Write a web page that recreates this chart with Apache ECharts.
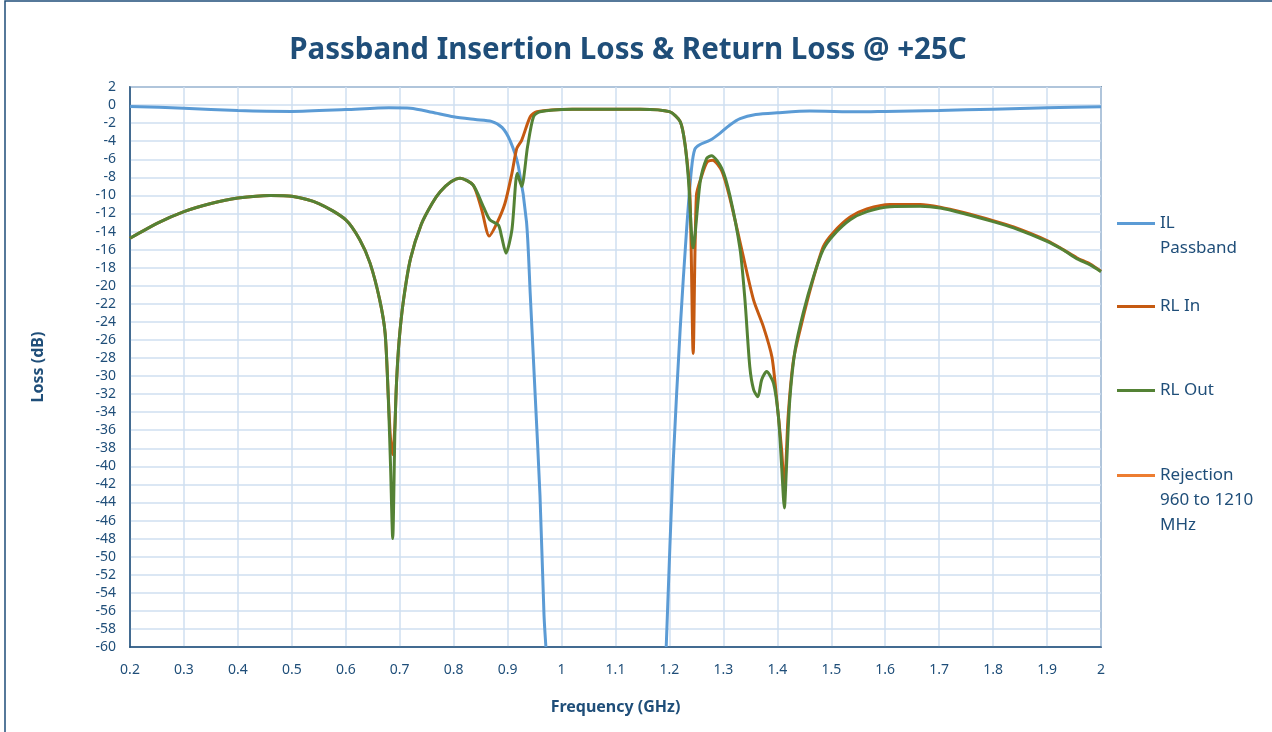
<!DOCTYPE html>
<html>
<head>
<meta charset="utf-8">
<script src="https://cdn.jsdelivr.net/npm/echarts@6/dist/echarts.min.js"></script>
<style>
  html, body { margin: 0; padding: 0; background: #fff; overflow: hidden; }
  #chart { width: 1272px; height: 732px; }
</style>
</head>
<body>
<div id="chart"></div>
<script>
// IL passband (GHz, dB) - goes below -60 in the stopband, so there's a gap
const ilFreq = [0.20, 0.30, 0.40, 0.50, 0.60, 0.68, 0.72, 0.76, 0.80, 0.84, 0.87, 0.89, 0.905, 0.92, 0.935, 0.942, 0.951, 0.960, 0.9675, 0.971,
  1.08,
  1.194, 1.207, 1.22, 1.232, 1.241, 1.247, 1.256, 1.275, 1.294, 1.312, 1.331, 1.36, 1.40, 1.46, 1.55, 1.60, 1.70, 1.80, 1.90, 2.00];
const ilLoss = [-0.15, -0.35, -0.6, -0.7, -0.5, -0.3, -0.35, -0.8, -1.3, -1.6, -1.8, -2.5, -4.0, -6.8, -12.9, -21, -32, -43.2, -56.5, -60,
  null,
  -60, -39.5, -24.7, -13.6, -7, -4.9, -4.4, -3.9, -3.1, -2.2, -1.5, -1.05, -0.85, -0.65, -0.75, -0.7, -0.6, -0.45, -0.3, -0.2];

// RL In
const rlInFreq = [0.20, 0.25, 0.30, 0.35, 0.40, 0.46, 0.50, 0.55, 0.60, 0.626, 0.645, 0.663, 0.673, 0.679, 0.683, 0.687, 0.691, 0.694, 0.699, 0.707,
  0.72, 0.74, 0.76, 0.775, 0.795, 0.812, 0.836, 0.852, 0.866, 0.88, 0.895, 0.908, 0.917, 0.926, 0.942, 0.954, 1.02, 1.146, 1.20, 1.22, 1.229,
  1.238, 1.244, 1.25, 1.26, 1.27, 1.28, 1.297, 1.312, 1.334, 1.356, 1.374, 1.39, 1.399, 1.408, 1.413, 1.42, 1.43, 1.445, 1.464, 1.485,
  1.504, 1.535, 1.566, 1.609, 1.665, 1.702, 1.745, 1.80, 1.838, 1.90, 1.93, 1.955, 1.98, 2.00];
const rlInLoss = [-14.75, -13.1, -11.8, -10.9, -10.3, -10.0, -10.1, -10.9, -12.7, -14.9, -17.5, -21.6, -25.3, -32.5, -37, -38.7, -35.5, -30.8, -26, -21.6,
  -17, -13.2, -10.9, -9.6, -8.5, -8.1, -8.85, -11.6, -14.5, -13.1, -10.9, -7.55, -4.8, -3.9, -1.3, -0.73, -0.47, -0.45, -0.73, -1.84, -4.4,
  -10, -27.5, -10, -7.8, -6.3, -6.1, -7.3, -10.3, -16, -21.6, -24.5, -27.9, -32.7, -38.2, -42.5, -34.5, -28.2, -24.2, -19.8, -15.7,
  -14.1, -12.4, -11.5, -11.0, -11.0, -11.3, -11.9, -12.8, -13.5, -15.0, -16.0, -16.9, -17.6, -18.4];

// RL Out
const rlOutFreq = [0.20, 0.25, 0.30, 0.35, 0.40, 0.46, 0.50, 0.55, 0.60, 0.626, 0.645, 0.663, 0.673, 0.679, 0.683, 0.687, 0.691, 0.694, 0.699, 0.707,
  0.72, 0.74, 0.76, 0.775, 0.795, 0.812, 0.836, 0.855, 0.867, 0.883, 0.889, 0.897, 0.908, 0.918, 0.926, 0.937, 0.948, 0.96, 1.02, 1.146, 1.20,
  1.22, 1.229, 1.235, 1.244, 1.257, 1.269, 1.278, 1.297, 1.312, 1.331, 1.34, 1.349, 1.356, 1.364, 1.371, 1.38, 1.393, 1.402, 1.408, 1.413,
  1.417, 1.423, 1.433, 1.448, 1.467, 1.485, 1.504, 1.535, 1.566, 1.609, 1.665, 1.702, 1.745, 1.80, 1.838, 1.90, 1.93, 1.955, 1.98, 2.00];
const rlOutLoss = [-14.75, -13.1, -11.8, -10.9, -10.3, -10.0, -10.1, -10.9, -12.7, -14.9, -17.5, -21.6, -25.3, -32.7, -40, -48, -36.3, -30.8, -26, -21.6,
  -17, -13.2, -10.9, -9.6, -8.5, -8.1, -8.85, -11.25, -12.7, -13.3, -14.6, -16.4, -13.8, -7.55, -9.0, -4.6, -1.3, -0.73, -0.47, -0.45, -0.73,
  -1.84, -4.4, -8.1, -15.8, -8.5, -5.9, -5.6, -7, -10, -16, -21.6, -29, -31.5, -32.3, -30.4, -29.5, -30.8, -34.5, -40, -44.6,
  -40, -32.7, -27.1, -23, -19, -16.0, -14.4, -12.7, -11.8, -11.25, -11.2, -11.4, -12.0, -12.9, -13.6, -15.1, -16.05, -17, -17.7, -18.45];

// rejection series has no visible points, only a legend entry
const rejFreq = [];
const rejLoss = [];

const legendText = {
  'IL Passband': '\nIL\nPassband',
  'RL In': 'RL In',
  'RL Out': 'RL Out',
  'Rejection 960 to 1210 MHz': '\n\nRejection\n960 to 1210\nMHz'
};

function zip(xs, ys) {
  return xs.map((x, i) => [x, ys[i]]);
}

const dark = '#1f4e79';
const font = 'Noto Sans';

const chart = echarts.init(document.getElementById('chart'));

function oneLegend(name, top) {
  return {
    data: [name],
    orient: 'vertical',
    left: 1117,
    top: top,
    padding: 0,
    icon: 'rect',
    itemWidth: 38,
    itemHeight: 3,
    selectedMode: false,
    formatter: n => legendText[n],
    textStyle: { fontFamily: font, fontSize: 17, color: dark, lineHeight: 25 }
  };
}

function lineSeries(name, color, xs, ys) {
  return {
    name: name,
    type: 'line',
    data: zip(xs, ys),
    symbol: 'none',
    smooth: 0.25,
    connectNulls: false,
    lineStyle: { color: color, width: 3 },
    itemStyle: { color: color }
  };
}

chart.setOption({
  animation: false,
  title: {
    text: 'Passband Insertion Loss & Return Loss @ +25C',
    left: 623,
    textAlign: 'center',
    top: 31,
    textStyle: { fontFamily: font, fontSize: 29.5, fontWeight: 'bold', color: dark }
  },
  graphic: [{
    type: 'rect',
    shape: { x: 5, y: 1, width: 1400, height: 800 },
    style: { fill: 'none', stroke: dark, lineWidth: 1.5 },
    silent: true
  }],
  legend: [
    oneLegend('IL Passband', 186),
    oneLegend('RL In', 294),
    oneLegend('RL Out', 378),
    oneLegend('Rejection 960 to 1210 MHz', 413)
  ],
  grid: {
    left: 130, right: 171, top: 87, bottom: 85,
    show: true, borderColor: dark, borderWidth: 1.5
  },
  xAxis: {
    type: 'value',
    min: 0.2, max: 2, interval: 0.1,
    name: 'Frequency (GHz)',
    nameLocation: 'middle',
    nameGap: 52,
    nameTextStyle: { fontFamily: font, fontSize: 16, fontWeight: 'bold', color: dark },
    axisLine: { onZero: false, lineStyle: { color: dark, width: 1.5 } },
    axisTick: { show: false },
    axisLabel: { fontFamily: font, fontSize: 14, color: dark, margin: 16 },
    splitLine: { lineStyle: { color: '#cfdff1', width: 1.5 } }
  },
  yAxis: {
    type: 'value',
    min: -60, max: 2, interval: 2,
    name: 'Loss (dB)',
    nameLocation: 'middle',
    nameGap: 84,
    nameTextStyle: { fontFamily: font, fontSize: 16, fontWeight: 'bold', color: dark },
    axisLine: { show: true, onZero: false, lineStyle: { color: dark, width: 1.5 } },
    axisTick: { show: false },
    axisLabel: { fontFamily: font, fontSize: 14, color: dark, margin: 14 },
    splitLine: { lineStyle: { color: '#cfdff1', width: 1.5 } }
  },
  series: [
    lineSeries('IL Passband', '#5b9bd5', ilFreq, ilLoss),
    lineSeries('RL In', '#c55a11', rlInFreq, rlInLoss),
    lineSeries('RL Out', '#548235', rlOutFreq, rlOutLoss),
    lineSeries('Rejection 960 to 1210 MHz', '#ed7d31', rejFreq, rejLoss)
  ]
});
</script>
</body>
</html>
